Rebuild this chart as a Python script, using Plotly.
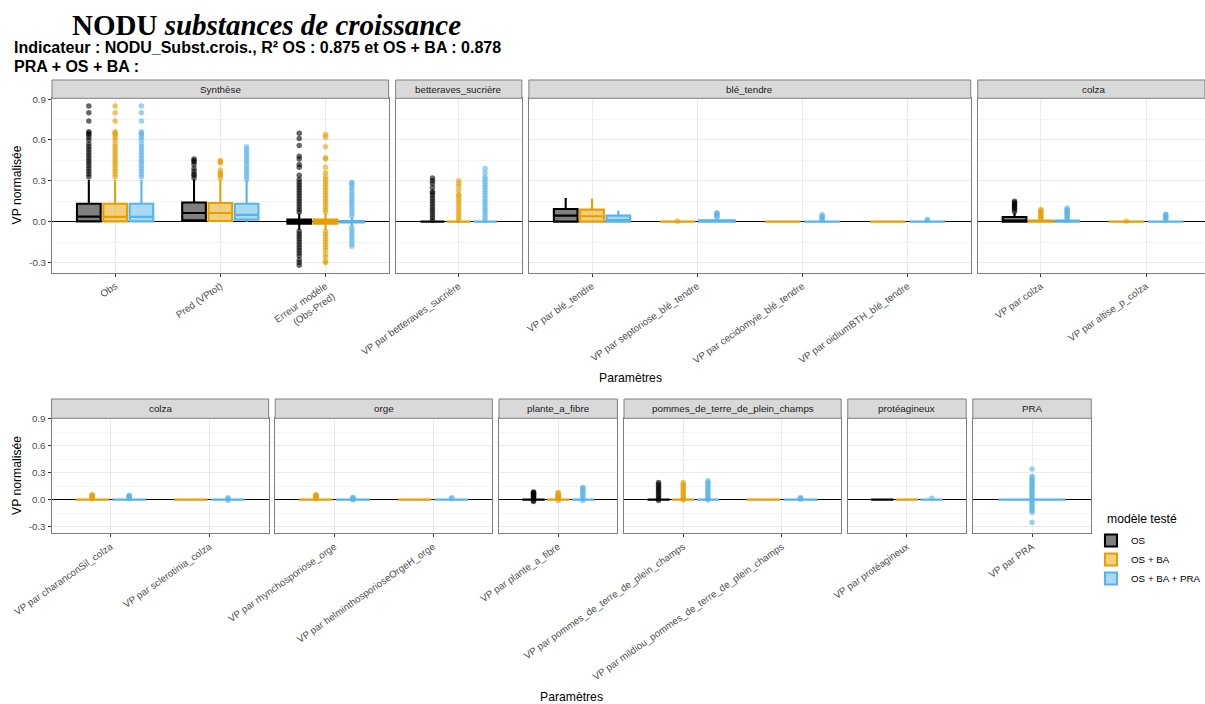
import plotly.graph_objects as go

W, H = 1205, 704

MODELS = ["OS", "OS + BA", "OS + BA + PRA"]
LINE_COLORS = ["#000000", "#E69F00", "#56B4E9"]
FILL_COLORS = ["rgba(0,0,0,0.5)", "rgba(230,159,0,0.5)", "rgba(86,180,233,0.5)"]
POINT_COLORS = ["rgba(0,0,0,0.6)", "rgba(230,159,0,0.6)", "rgba(86,180,233,0.6)"]

ERR = "Erreur modèle\n(Obs-Pred)"

TOP_FACETS = ["Synthèse", "betteraves_sucrière", "blé_tendre", "colza"]
TOP_PARAMS = [
    ["Obs", "Pred (VPtot)", ERR],
    ["VP par betteraves_sucrière"],
    ["VP par blé_tendre", "VP par septoriose_blé_tendre",
     "VP par cecidomyie_blé_tendre", "VP par oidiumBTH_blé_tendre"],
    ["VP par colza", "VP par altise_p_colza"],
]
BOTTOM_FACETS = ["colza", "orge", "plante_a_fibre",
                 "pommes_de_terre_de_plein_champs", "protéagineux", "PRA"]
BOTTOM_PARAMS = [
    ["VP par charanconSil_colza", "VP par sclerotinia_colza"],
    ["VP par rhynchosporiose_orge", "VP par helminthosporioseOrgeH_orge"],
    ["VP par plante_a_fibre"],
    ["VP par pommes_de_terre_de_plein_champs",
     "VP par mildiou_pommes_de_terre_de_plein_champs"],
    ["VP par protéagineux"],
    ["VP par PRA"],
]

Y_TICKS = [-0.3, 0.0, 0.3, 0.6, 0.9]
Y_LABELS = ["-0.3", "0.0", "0.3", "0.6", "0.9"]

# box stats: [lower whisker, q1, median, q3, upper whisker]; missing key = no data
OS_BOX = {
    "Obs": [0.0, 0.002, 0.037, 0.132, 0.307],
    "Pred (VPtot)": [0.0, 0.01, 0.063, 0.141, 0.31],
    ERR: [-0.06, -0.015, -0.002, 0.015, 0.06],
    "VP par betteraves_sucrière": [0, 0, 0, 0, 0],
    "VP par blé_tendre": [0.0, 0.0, 0.044, 0.093, 0.173],
    "VP par colza": [0.0, 0.0, 0.004, 0.034, 0.065],
    "VP par plante_a_fibre": [0, 0, 0, 0, 0],
    "VP par pommes_de_terre_de_plein_champs": [0, 0, 0, 0, 0],
    "VP par protéagineux": [0, 0, 0, 0, 0],
}
BA_BOX = {
    "Obs": [0.0, 0.002, 0.035, 0.132, 0.307],
    "Pred (VPtot)": [0.0, 0.005, 0.063, 0.137, 0.31],
    ERR: [-0.06, -0.015, -0.002, 0.015, 0.06],
    "VP par betteraves_sucrière": [0, 0, 0, 0, 0],
    "VP par blé_tendre": [0.0, 0.0, 0.04, 0.088, 0.168],
    "VP par septoriose_blé_tendre": [0, 0, 0, 0, 0],
    "VP par cecidomyie_blé_tendre": [0, 0, 0, 0, 0],
    "VP par oidiumBTH_blé_tendre": [0, 0, 0, 0, 0],
    "VP par colza": [0, 0, 0, 0.008, 0.015],
    "VP par altise_p_colza": [0, 0, 0, 0, 0],
    "VP par charanconSil_colza": [0, 0, 0, 0, 0],
    "VP par sclerotinia_colza": [0, 0, 0, 0, 0],
    "VP par rhynchosporiose_orge": [0, 0, 0, 0, 0],
    "VP par helminthosporioseOrgeH_orge": [0, 0, 0, 0, 0],
    "VP par plante_a_fibre": [0, 0, 0, 0, 0],
    "VP par pommes_de_terre_de_plein_champs": [0, 0, 0, 0, 0],
    "VP par mildiou_pommes_de_terre_de_plein_champs": [0, 0, 0, 0, 0],
    "VP par protéagineux": [0, 0, 0, 0, 0],
}
PRA_BOX = {
    "Obs": [0.0, 0.002, 0.035, 0.132, 0.307],
    "Pred (VPtot)": [0.0, 0.015, 0.05, 0.132, 0.30],
    ERR: [-0.03, -0.005, 0.0, 0.005, 0.03],
    "VP par betteraves_sucrière": [0, 0, 0, 0, 0],
    "VP par blé_tendre": [0.0, 0.0, 0.012, 0.044, 0.08],
    "VP par septoriose_blé_tendre": [0, 0, 0.003, 0.01, 0.02],
    "VP par cecidomyie_blé_tendre": [0, 0, 0, 0, 0],
    "VP par oidiumBTH_blé_tendre": [0, 0, 0, 0, 0],
    "VP par colza": [0, 0, 0, 0.008, 0.015],
    "VP par altise_p_colza": [0, 0, 0, 0, 0],
    "VP par charanconSil_colza": [0, 0, 0, 0, 0],
    "VP par sclerotinia_colza": [0, 0, 0, 0, 0],
    "VP par rhynchosporiose_orge": [0, 0, 0, 0, 0],
    "VP par helminthosporioseOrgeH_orge": [0, 0, 0, 0, 0],
    "VP par plante_a_fibre": [0, 0, 0, 0, 0],
    "VP par pommes_de_terre_de_plein_champs": [0, 0, 0, 0, 0],
    "VP par mildiou_pommes_de_terre_de_plein_champs": [0, 0, 0, 0, 0],
    "VP par protéagineux": [0, 0, 0, 0, 0],
    "VP par PRA": [0, 0, 0, 0, 0],
}

# outliers
OS_OUT = {
    "Obs": [0.33, 0.35, 0.37, 0.39, 0.41, 0.43, 0.45, 0.47, 0.49, 0.51, 0.53, 0.55,
            0.57, 0.6, 0.62, 0.64, 0.65, 0.66, 0.74, 0.8, 0.85],
    "Pred (VPtot)": [0.32, 0.34, 0.35, 0.37, 0.39, 0.42, 0.44, 0.45, 0.46],
    ERR: [0.07, 0.09, 0.11, 0.13, 0.15, 0.17, 0.19, 0.21, 0.23, 0.25, 0.27, 0.29,
          0.31, 0.34, 0.4, 0.42, 0.46, 0.48, 0.56, 0.61, 0.65,
          -0.07, -0.09, -0.11, -0.13, -0.15, -0.17, -0.19, -0.21, -0.23,
          -0.25, -0.28, -0.3, -0.32],
    "VP par betteraves_sucrière": [0.01, 0.03, 0.05, 0.07, 0.09, 0.11, 0.13, 0.15,
                                   0.17, 0.19, 0.21, 0.22, 0.25, 0.28, 0.3, 0.32],
    "VP par colza": [0.075, 0.09, 0.1, 0.11, 0.12, 0.13, 0.14, 0.15],
    "VP par plante_a_fibre": [-0.02, -0.01, 0.01, 0.02, 0.03, 0.04, 0.05, 0.06,
                              0.07, 0.08, 0.085],
    "VP par pommes_de_terre_de_plein_champs": [-0.01, 0.01, 0.03, 0.05, 0.07, 0.09,
                                               0.11, 0.13, 0.15, 0.17, 0.19],
}
BA_OUT = {
    "Obs": [0.33, 0.35, 0.37, 0.39, 0.41, 0.43, 0.45, 0.47, 0.49, 0.51, 0.53, 0.55,
            0.57, 0.6, 0.62, 0.64, 0.65, 0.66, 0.74, 0.8, 0.85],
    "Pred (VPtot)": [0.32, 0.34, 0.35, 0.36, 0.38, 0.43, 0.44, 0.45],
    ERR: [0.07, 0.09, 0.11, 0.13, 0.15, 0.17, 0.19, 0.21, 0.23, 0.25, 0.27, 0.29,
          0.31, 0.33, 0.36, 0.4, 0.46, 0.47, 0.55, 0.62, 0.64,
          -0.07, -0.09, -0.11, -0.13, -0.15, -0.17, -0.19, -0.21,
          -0.24, -0.26, -0.29, -0.3],
    "VP par betteraves_sucrière": [0.01, 0.03, 0.05, 0.07, 0.09, 0.11, 0.13, 0.15,
                                   0.17, 0.19, 0.2, 0.23, 0.26, 0.28, 0.3],
    "VP par septoriose_blé_tendre": [0.002],
    "VP par colza": [0.02, 0.03, 0.04, 0.05, 0.06, 0.07, 0.08, 0.09],
    "VP par altise_p_colza": [0.002],
    "VP par charanconSil_colza": [0.01, 0.02, 0.03, 0.04, 0.05, 0.055],
    "VP par rhynchosporiose_orge": [0.01, 0.02, 0.03, 0.04, 0.05, 0.055],
    "VP par plante_a_fibre": [-0.01, 0.01, 0.02, 0.03, 0.04, 0.05, 0.06, 0.07, 0.08],
    "VP par pommes_de_terre_de_plein_champs": [-0.005, 0.01, 0.03, 0.05, 0.07, 0.09,
                                               0.11, 0.13, 0.15, 0.17, 0.19],
}
PRA_OUT = {
    "Obs": [0.33, 0.35, 0.37, 0.39, 0.41, 0.43, 0.45, 0.47, 0.49, 0.51, 0.53, 0.55,
            0.57, 0.6, 0.62, 0.64, 0.65, 0.66, 0.74, 0.8, 0.85],
    "Pred (VPtot)": [0.31, 0.33, 0.35, 0.37, 0.39, 0.41, 0.43, 0.45, 0.47, 0.49,
                     0.51, 0.53, 0.55],
    ERR: [0.04, 0.06, 0.08, 0.1, 0.12, 0.14, 0.16, 0.18, 0.2, 0.22, 0.24, 0.26,
          0.28, 0.29, -0.04, -0.06, -0.08, -0.1, -0.12, -0.14, -0.16, -0.18],
    "VP par betteraves_sucrière": [0.01, 0.03, 0.05, 0.07, 0.09, 0.11, 0.13, 0.15,
                                   0.17, 0.19, 0.21, 0.23, 0.25, 0.27, 0.29, 0.31,
                                   0.33, 0.36, 0.39],
    "VP par septoriose_blé_tendre": [0.03, 0.04, 0.05, 0.06, 0.065],
    "VP par cecidomyie_blé_tendre": [0.01, 0.02, 0.03, 0.04, 0.05],
    "VP par oidiumBTH_blé_tendre": [0.01, 0.015],
    "VP par colza": [0.02, 0.03, 0.04, 0.05, 0.06, 0.07, 0.08, 0.09, 0.1],
    "VP par altise_p_colza": [0.01, 0.02, 0.03, 0.04, 0.05, 0.055],
    "VP par charanconSil_colza": [0.01, 0.02, 0.03, 0.04, 0.05],
    "VP par sclerotinia_colza": [-0.01, 0.01, 0.02],
    "VP par rhynchosporiose_orge": [-0.005, 0.01, 0.02, 0.025],
    "VP par helminthosporioseOrgeH_orge": [0.01, 0.02],
    "VP par plante_a_fibre": [-0.01, 0.01, 0.03, 0.05, 0.07, 0.09, 0.11, 0.13, 0.135],
    "VP par pommes_de_terre_de_plein_champs": [-0.005, 0.01, 0.03, 0.05, 0.07, 0.09,
                                               0.11, 0.13, 0.15, 0.17, 0.19, 0.21],
    "VP par mildiou_pommes_de_terre_de_plein_champs": [0.005, 0.015, 0.02],
    "VP par protéagineux": [0.015],
    "VP par PRA": [-0.255, -0.14, -0.12, -0.1, -0.08, -0.06, -0.04, -0.02, 0.0,
                   0.02, 0.04, 0.06, 0.08, 0.1, 0.12, 0.14, 0.16, 0.18, 0.2, 0.22,
                   0.24, 0.26, 0.34],
}

BOXES = [OS_BOX, BA_BOX, PRA_BOX]
OUTLIERS = [OS_OUT, BA_OUT, PRA_OUT]

# pixel layout of the two facet rows
ROWS = [
    dict(facets=TOP_FACETS, params=TOP_PARAMS, left=52, unit=105.2, gap=7,
         strip=(80, 98.3), plot=(98.3, 272.7), xtitle=(630, 378), ytitle=185.5),
    dict(facets=BOTTOM_FACETS, params=BOTTOM_PARAMS, left=51.5, unit=98.7, gap=6.6,
         strip=(399, 418.3), plot=(418.3, 533.3), xtitle=(571, 697), ytitle=476),
]
Y_RANGE = [-0.375, 0.906]

FONT = "Liberation Sans"
BORDER = "#7F7F7F"

fig = go.Figure()
axes = {}
shapes = []
annotations = []
legend_done = set()
n = 0

for row in ROWS:
    x = row["left"]
    for i, (facet, params) in enumerate(zip(row["facets"], row["params"])):
        n += 1
        sfx = "" if n == 1 else str(n)
        x0 = x
        x1 = x0 + (len(params) + 0.2) * row["unit"]
        x = x1 + row["gap"]
        x1c = min(x1, W)
        hi = 0.4 + (x1c - x0) / row["unit"]
        first = i == 0

        axes["xaxis" + sfx] = dict(
            domain=[x0 / W, x1c / W], anchor="y" + sfx, range=[0.4, hi],
            automargin=False,
            tickmode="array", tickvals=list(range(1, len(params) + 1)),
            ticktext=[p.replace("\n", "<br>") for p in params],
            tickangle=-35, tickfont=dict(size=9.8, color="#4D4D4D", family=FONT),
            ticks="outside", ticklen=3, tickcolor="#333333",
            showgrid=True, gridcolor="#EBEBEB", gridwidth=1, zeroline=False,
            showline=True, mirror=True, linecolor=BORDER, linewidth=1,
        )
        axes["yaxis" + sfx] = dict(
            domain=[1 - row["plot"][1] / H, 1 - row["plot"][0] / H],
            anchor="x" + sfx, range=Y_RANGE, automargin=False,
            tickmode="array", tickvals=Y_TICKS, ticktext=Y_LABELS,
            showticklabels=first, ticks="outside" if first else "",
            ticklen=3, tickcolor="#333333",
            tickfont=dict(size=9.8, color="#4D4D4D", family=FONT),
            showgrid=True, gridcolor="#EBEBEB", gridwidth=1,
            minor=dict(tick0=-0.15, dtick=0.3, showgrid=True,
                       gridcolor="#F5F5F5", gridwidth=0.6),
            zeroline=True, zerolinecolor="#000000", zerolinewidth=1,
            showline=True, mirror=x1 <= W, linecolor=BORDER, linewidth=1,
        )

        # strip
        shapes.append(dict(type="rect", xref="paper", yref="paper",
                           x0=x0 / W, x1=x1c / W,
                           y0=1 - row["strip"][1] / H, y1=1 - row["strip"][0] / H,
                           fillcolor="#D9D9D9", line=dict(color=BORDER, width=1)))
        annotations.append(dict(text=facet, xref="paper", yref="paper",
                                x=(x0 + x1) / 2 / W,
                                y=1 - (row["strip"][0] + row["strip"][1]) / 2 / H,
                                showarrow=False, xanchor="center", yanchor="middle",
                                font=dict(size=9.8, color="#1A1A1A", family=FONT)))

        for j, p in enumerate(params):
            present = [k for k in range(3) if p in BOXES[k]]
            slot = 0.75 / len(present)
            for m, k in enumerate(present):
                cx = (j + 1) - 0.375 + slot * (m + 0.5)
                lo, q1, med, q3, up = BOXES[k][p]
                show = MODELS[k] not in legend_done
                legend_done.add(MODELS[k])
                fig.add_trace(go.Box(
                    x=[cx], q1=[q1], median=[med], q3=[q3],
                    lowerfence=[lo], upperfence=[up], orientation="v",
                    width=slot * 0.9, whiskerwidth=0, boxpoints=False,
                    fillcolor=FILL_COLORS[k],
                    line=dict(color=LINE_COLORS[k], width=2.1),
                    name=MODELS[k], legendgroup=MODELS[k], showlegend=show,
                    legendrank=k, hoverinfo="skip",
                    xaxis="x" + sfx, yaxis="y" + sfx,
                ))
                vals = OUTLIERS[k].get(p, [])
                if vals:
                    fig.add_trace(go.Scatter(
                        x=[cx] * len(vals), y=vals, mode="markers",
                        marker=dict(size=5.5, color=POINT_COLORS[k], line=dict(width=0)),
                        showlegend=False, hoverinfo="skip",
                        xaxis="x" + sfx, yaxis="y" + sfx,
                    ))

    annotations.append(dict(text="Paramètres", xref="paper", yref="paper",
                            x=row["xtitle"][0] / W, y=1 - row["xtitle"][1] / H,
                            showarrow=False, xanchor="center", yanchor="middle",
                            font=dict(size=12.2, color="#000000", family=FONT)))
    annotations.append(dict(text="VP normalisée", xref="paper", yref="paper",
                            x=17 / W, y=1 - row["ytitle"] / H, textangle=-90,
                            showarrow=False, xanchor="center", yanchor="middle",
                            font=dict(size=12.2, color="#000000", family=FONT)))

annotations.append(dict(text="<b>NODU <i>substances de croissance</i></b>",
                        xref="paper", yref="paper", x=266 / W, y=1 - 25 / H,
                        showarrow=False, xanchor="center", yanchor="middle",
                        font=dict(size=29, color="#000000", family="Liberation Serif")))
annotations.append(dict(text="<b>Indicateur : NODU_Subst.crois., R² OS : 0.875 et OS + BA : 0.878</b>",
                        xref="paper", yref="paper", x=12 / W, y=1 - 48 / H,
                        showarrow=False, xanchor="left", yanchor="middle",
                        font=dict(size=16, color="#000000", family=FONT)))
annotations.append(dict(text="<b>PRA + OS + BA :</b>",
                        xref="paper", yref="paper", x=12 / W, y=1 - 66 / H,
                        showarrow=False, xanchor="left", yanchor="middle",
                        font=dict(size=16, color="#000000", family=FONT)))
# legend title
annotations.append(dict(text="modèle testé", xref="paper", yref="paper",
                        x=1105 / W, y=1 - 519 / H, showarrow=False,
                        xanchor="left", yanchor="middle",
                        font=dict(size=12.2, color="#000000", family=FONT)))

fig.update_layout(
    template="none",
    width=W, height=H, margin=dict(l=0, r=0, t=0, b=0, autoexpand=False),
    paper_bgcolor="white", plot_bgcolor="white",
    boxmode="overlay", font=dict(family=FONT),
    shapes=shapes, annotations=annotations,
    legend=dict(font=dict(size=9.8, color="#000000"), x=1091 / W, y=1 - 526 / H,
                xanchor="left", yanchor="top", bgcolor="rgba(0,0,0,0)",
                traceorder="normal", borderwidth=0, tracegroupgap=3),
    **axes,
)

fig.write_html("out.html", config={"displayModeBar": False},
               post_script="document.body.style.margin='0';")
